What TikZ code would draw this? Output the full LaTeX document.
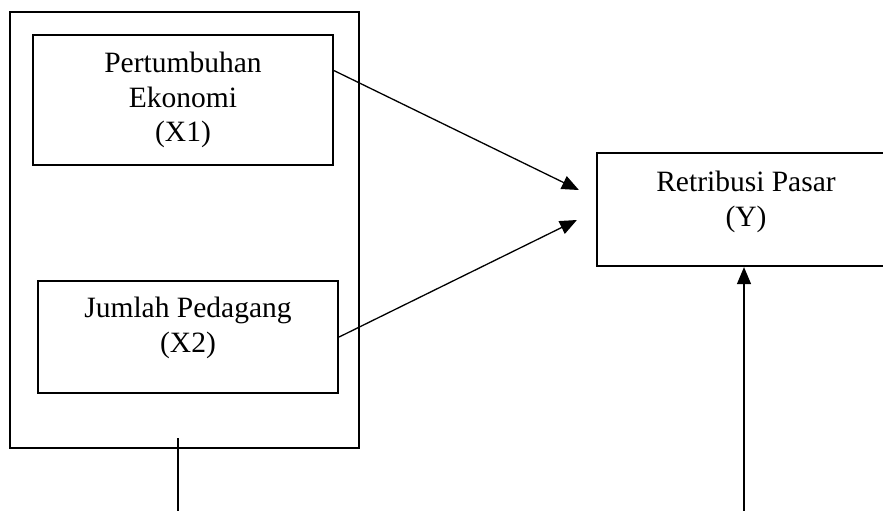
\documentclass[tikz,border=0pt]{standalone}
\usepackage{fontspec}
\setmainfont{Liberation Serif}
\usetikzlibrary{arrows.meta}
\usetikzlibrary{positioning}

\begin{document}
\begin{tikzpicture}[x=0.5pt,y=-0.5pt,
    box/.style={draw,line width=1.1pt,align=center,inner sep=0pt,
        font=\fontsize{14.75}{17.25}\selectfont},
    frame/.style={draw,line width=1.1pt,inner sep=0pt,
        minimum width=174.5pt,minimum height=218pt},
    link/.style={draw,line width=0.65pt},
    arr/.style={link,-{Triangle[length=8.5pt,width=7pt]}}]
    \useasboundingbox (0,0) rectangle (883,510);
    \node [frame] (group) at (184.5,230) {};
    \node [box,minimum width=150pt,minimum height=65pt] (x1) at (183,100)
        {Pertumbuhan\\Ekonomi\\(X1)};
    \node [box,minimum width=150pt,minimum height=56pt] (x2) at (188,337)
        {Jumlah Pedagang\\(X2)\rule[-12pt]{0pt}{0pt}};
    \node [box,minimum width=149pt,minimum height=56.5pt] (y) at (746,209.5)
        {Retribusi Pasar\\(Y)\rule[-10.5pt]{0pt}{0pt}};
    % free ends at the bottom
    \coordinate (g1) at (178,438);
    \coordinate (g2) at (178,520);
    \coordinate (e2) at (744,520);
    \draw [arr] (x1.11) -- ([xshift=-8.5pt,yshift=9.75pt]y.west);
    \draw [arr] (x2.east) -- ([xshift=-9.5pt,yshift=-5.25pt]y.west);
    \draw [link] (g2) -- (g1);
    \draw [arr] (e2) -- (e2 |- y.south);
\end{tikzpicture}
\end{document}
